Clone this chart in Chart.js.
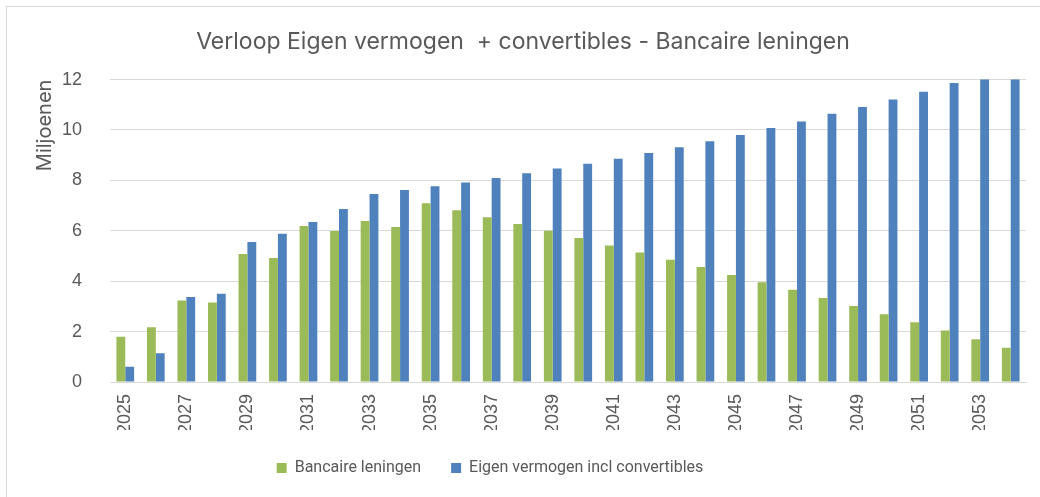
<!DOCTYPE html>
<html>
<head>
<meta charset="utf-8">
<script src="https://cdn.jsdelivr.net/npm/chart.js@4/dist/chart.umd.min.js"></script>
<style>
  html, body { margin: 0; padding: 0; background: #ffffff; overflow: hidden; }
  #frame { position: absolute; left: 6px; top: 6px; width: 2000px; height: 2000px; border: 1px solid #d9d9d9; }
  #chart { position: absolute; left: 0; top: 0; }
</style>
</head>
<body>
<div id="frame"></div>
<canvas id="chart" width="1040" height="497"></canvas>
<script>
/* --------------- Data --------------------- */
const years = ["2025", "2026", "2027", "2028", "2029", "2030", "2031", "2032", "2033", "2034",
    "2035", "2036", "2037", "2038", "2039", "2040", "2041", "2042", "2043", "2044",
    "2045", "2046", "2047", "2048", "2049", "2050", "2051", "2052", "2053", "2054"];

// Bancaire leningen (miljoenen)
const bancaire = [1.80, 2.17, 3.23, 3.15, 5.08, 4.92, 6.19, 5.99, 6.39, 6.15,
    7.09, 6.82, 6.54, 6.27, 6.00, 5.71, 5.42, 5.14, 4.85, 4.56,
    4.25, 3.96, 3.66, 3.33, 3.02, 2.69, 2.37, 2.04, 1.70, 1.36];

// Eigen vermogen incl convertibles (miljoenen), last two run past the axis top
const eigen = [0.61, 1.14, 3.37, 3.50, 5.56, 5.88, 6.35, 6.87, 7.46, 7.62,
    7.77, 7.92, 8.10, 8.28, 8.47, 8.66, 8.86, 9.09, 9.32, 9.55,
    9.80, 10.08, 10.34, 10.64, 10.91, 11.21, 11.52, 11.87, 12.2, 12.5];

const yTicks = [0, 2, 4, 6, 8, 10, 12];

/* --------------- Styles --------------------- */
const green = "#9bbb59";
const blue = "#4f81bd";
const textGrey = "#595959";
const gridGrey = "#d9d9d9";

/* --------------- Shift legend a bit to the left like the original --------------------- */
const legendShift = {
    id: "legendShift",
    afterLayout: (chart) => {
        chart.legend.left -= 33;
        chart.legend.right -= 33;
    },
};

/* --------------- Chart --------------------- */
new Chart(document.getElementById("chart"), {
    type: "bar",
    plugins: [legendShift],
    data: {
        labels: years,
        datasets: [
            { label: "Bancaire leningen", data: bancaire, backgroundColor: green },
            { label: "Eigen vermogen incl convertibles", data: eigen, backgroundColor: blue },
        ],
    },
    options: {
        responsive: false,
        animation: false,
        devicePixelRatio: 1,
        layout: { padding: { left: 20, right: 14, top: 0, bottom: 11 } },
        datasets: { bar: { barPercentage: 1, categoryPercentage: 0.58 } },
        scales: {
            x: {
                grid: { display: false, drawTicks: false },
                border: { color: gridGrey },
                ticks: {
                    autoSkip: false,
                    minRotation: 90,
                    maxRotation: 90,
                    padding: 12,
                    color: textGrey,
                    font: { family: "'Liberation Sans', Arial", size: 18 },
                    callback: (value, index) => index % 2 === 0 ? years[index] : "",
                },
                afterFit: (scale) => {
                    scale.height = 48;
                    scale.paddingLeft = 0;
                    scale.paddingRight = 0;
                },
            },
            y: {
                min: 0,
                max: 12,
                afterBuildTicks: (scale) => { scale.ticks = yTicks.map(v => ({ value: v })); },
                afterFit: (scale) => { scale.width = 90; },
                grid: { color: gridGrey, drawTicks: false },
                border: { display: false },
                ticks: {
                    padding: 28,
                    color: textGrey,
                    font: { family: "'Liberation Sans', Arial", size: 18 },
                },
                title: {
                    display: true,
                    text: "Miljoenen",
                    align: "end",
                    color: textGrey,
                    font: { family: "Inter", size: 20 },
                    padding: { top: 13, bottom: 5 },
                },
            },
        },
        plugins: {
            tooltip: false,
            title: {
                display: true,
                text: "Verloop Eigen vermogen  + convertibles - Bancaire leningen",
                color: textGrey,
                font: { family: "Inter", size: 23, weight: "normal" },
                padding: { top: 28, bottom: 24 },
            },
            legend: {
                position: "bottom",
                labels: {
                    boxWidth: 10,
                    boxHeight: 10,
                    padding: 30,
                    color: textGrey,
                    font: { family: "Roboto", size: 16 },
                },
            },
        },
    },
});
</script>
</body>
</html>
